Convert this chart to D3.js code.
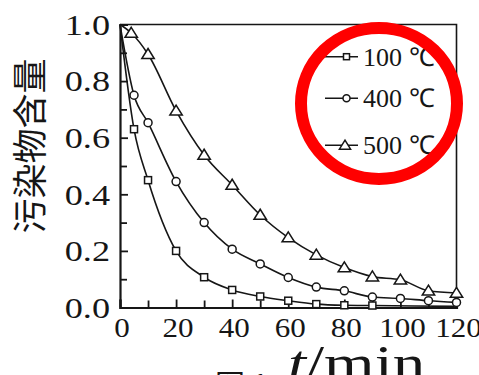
<!DOCTYPE html>
<html>
<head>
<meta charset="utf-8">
<script src="https://cdn.jsdelivr.net/npm/d3@7"></script>
<style>
  body { margin: 0; background: #fff; }
  svg { display: block; }
</style>
</head>
<body>
<svg id="chart" width="479" height="375"></svg>
<script>
// values
const t100 = [0, 5, 10, 20, 30, 40, 50, 60, 70, 80, 90, 120];
const v100 = [1.0, 0.63, 0.45, 0.20, 0.107, 0.062, 0.039, 0.024, 0.012, 0.008, 0.007, 0.004];
const t400 = [0, 5, 10, 20, 30, 40, 50, 60, 70, 80, 90, 100, 110, 120];
const v400 = [1.0, 0.75, 0.653, 0.445, 0.30, 0.206, 0.154, 0.106, 0.072, 0.059, 0.037, 0.032, 0.024, 0.018];
const t500 = [0, 4, 10, 20, 30, 40, 50, 60, 70, 80, 90, 100, 110, 120];
const v500 = [1.0, 0.97, 0.895, 0.695, 0.539, 0.433, 0.327, 0.247, 0.186, 0.141, 0.109, 0.098, 0.059, 0.051];
const seriesNames = ["100 ℃", "400 ℃", "500 ℃"];
const xTicks = [0, 20, 40, 60, 80, 100, 120];
const xMinor = [10, 30, 50, 70, 90, 110];
const yTicks = [0, 0.2, 0.4, 0.6, 0.8, 1.0];
const yMinor = [0.1, 0.3, 0.5, 0.7, 0.9];

const series = [
  {name: seriesNames[0], shape: "square", maxMark: 90, pts: t100.map((t, i) => ({t, v: v100[i]}))},
  {name: seriesNames[1], shape: "circle", maxMark: 120, pts: t400.map((t, i) => ({t, v: v400[i]}))},
  {name: seriesNames[2], shape: "triangle", maxMark: 120, pts: t500.map((t, i) => ({t, v: v500[i]}))}
];

const svg = d3.select("#chart");
const ink = "#161616";
const serif = "Liberation Serif";
const x = d3.scaleLinear().domain([0, 120]).range([120, 456.5]);
const y = d3.scaleLinear().domain([0, 1]).range([307.5, 24.5]);

// frame (top / right)
svg.append("path")
  .attr("d", `M${x(0)},${y(1)}H${x(120)}V${y(0)}`)
  .attr("fill", "none").attr("stroke", ink).attr("stroke-width", 1.6);

// axes with inward ticks
const gx = svg.append("g").attr("transform", `translate(0,${y(0)})`)
  .call(d3.axisBottom(x).tickValues(xTicks).tickSize(-8).tickFormat(d3.format("d")));
svg.append("g").attr("transform", `translate(0,${y(0)})`)
  .call(d3.axisBottom(x).tickValues(xMinor).tickSize(-7).tickFormat(""))
  .call(g => g.select(".domain").remove());
const gy = svg.append("g").attr("transform", `translate(${x(0)},0)`)
  .call(d3.axisLeft(y).tickValues(yTicks).tickSize(-8).tickFormat(d3.format(".1f")));
svg.append("g").attr("transform", `translate(${x(0)},0)`)
  .call(d3.axisLeft(y).tickValues(yMinor).tickSize(-7).tickFormat(""))
  .call(g => g.select(".domain").remove());

svg.selectAll(".domain").attr("stroke", ink).attr("stroke-width", 2.2);
svg.selectAll(".tick line").attr("stroke", ink).attr("stroke-width", 1.8);
// the figure's serif digits are wider than Liberation Serif, so stretch them
gx.selectAll("text")
  .attr("font-family", serif).attr("font-size", 27).attr("fill", ink)
  .attr("y", 0).attr("dy", 0)
  .attr("transform", "translate(1.5,29) scale(1.15,1)");
gy.selectAll("text")
  .attr("font-family", serif).attr("font-size", 29).attr("fill", ink)
  .attr("x", 0).attr("dy", "0.34em")
  .attr("transform", "translate(-10,0) scale(1.25,1)");

// curves
const line = d3.line().x(d => x(d.t)).y(d => y(d.v)).curve(d3.curveMonotoneX);
svg.append("g").selectAll("path")
  .data(series)
  .join("path")
    .attr("d", d => line(d.pts))
    .attr("fill", "none").attr("stroke", ink).attr("stroke-width", 1.6);

function marker(sel, shape, size) {
  if (shape === "square") {
    sel.append("rect").attr("x", -size / 2).attr("y", -size / 2)
      .attr("width", size).attr("height", size);
  } else if (shape === "circle") {
    sel.append("circle").attr("r", size / 2 + 0.5);
  } else {
    const h = size * 0.95;
    sel.append("path").attr("d", `M0,${-h * 0.6}L${size * 0.62},${h * 0.45}L${-size * 0.62},${h * 0.45}Z`);
  }
  sel.selectAll("rect,circle,path")
    .attr("fill", "#fff").attr("stroke", ink).attr("stroke-width", 1.5);
}

series.forEach(s => {
  svg.append("g").selectAll("g")
    .data(s.pts.filter(p => p.t > 0 && p.t <= s.maxMark))
    .join("g")
      .attr("transform", p => `translate(${x(p.t)},${y(p.v)})`)
      .each(function() { marker(d3.select(this), s.shape, s.shape === "triangle" ? 10 : 7); });
});

// legend
const legendRows = [56.7, 98.3, 145.3];
const lg = svg.append("g");
series.forEach((s, i) => {
  const row = lg.append("g").attr("transform", `translate(0,${legendRows[i]})`);
  row.append("line").attr("x1", 325).attr("x2", 358)
    .attr("stroke", ink).attr("stroke-width", 1.6);
  const m = row.append("g").attr("transform", `translate(${s.shape === "triangle" ? 345 : 346.5},0)`);
  marker(m, s.shape, s.shape === "triangle" ? 9 : 6);
  row.append("text").attr("x", 363).attr("dy", "0.35em")
    .attr("font-family", serif).attr("font-size", 26).attr("fill", ink)
    .text(s.name);
});

// axis titles
svg.append("text")
  .attr("transform", "translate(30,146) rotate(-90)")
  .attr("text-anchor", "middle").attr("dy", "0.36em")
  .attr("font-family", "Noto Sans CJK SC").attr("font-size", 35).attr("fill", ink)
  .text("污染物含量");

// the figure is cropped, so this title runs off the bottom edge
const xt = svg.append("text")
  .attr("transform", "translate(288,380) scale(1.3,1)")
  .attr("font-family", serif).attr("font-size", 50).attr("fill", ink);
xt.append("tspan").attr("font-style", "italic").text("t");
xt.append("tspan").text("/min");

svg.append("text").attr("x", 215).attr("y", 396)
  .attr("font-family", "Noto Sans CJK SC").attr("font-size", 30).attr("fill", ink)
  .text("图 1");

// red highlight ring
svg.append("ellipse")
  .attr("cx", 379).attr("cy", 103.5).attr("rx", 78).attr("ry", 75.5)
  .attr("fill", "none").attr("stroke", "#ff0000").attr("stroke-width", 12);
</script>
</body>
</html>
